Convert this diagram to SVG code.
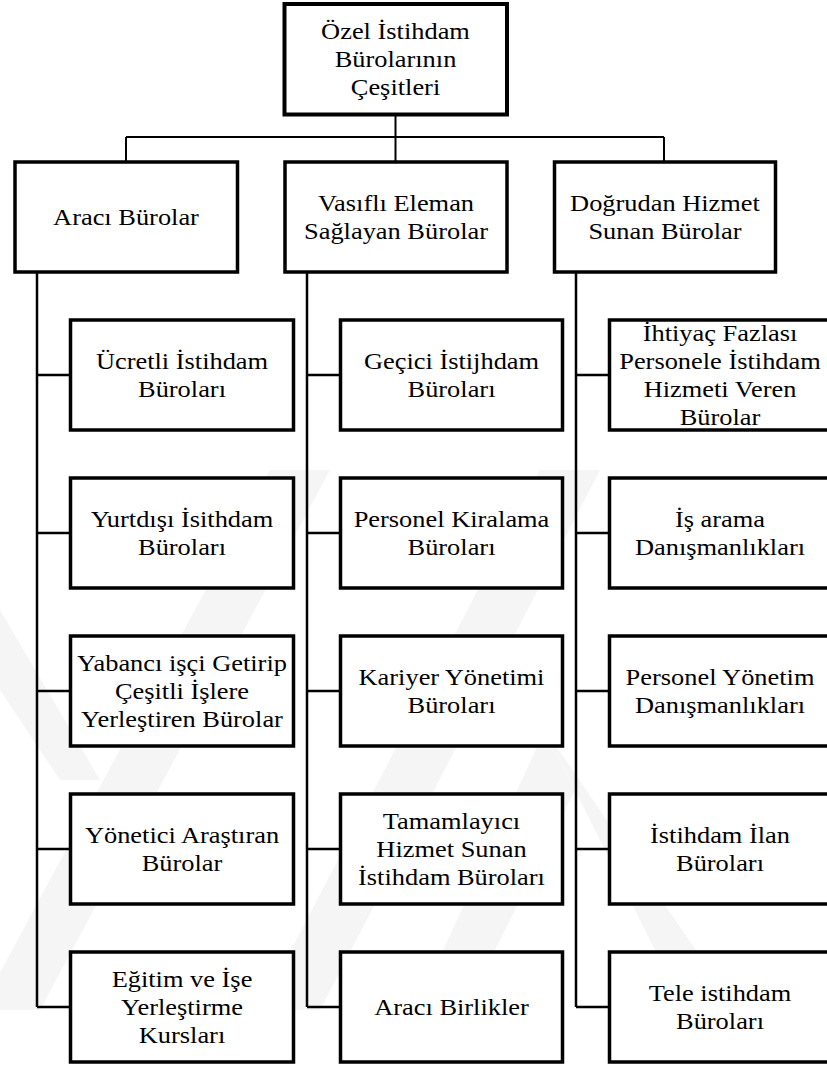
<svg xmlns="http://www.w3.org/2000/svg" width="827" height="1068" viewBox="0 0 827 1068">
<style>
.box{fill:#fff;stroke:#000;stroke-width:3.5}
.top{fill:#fff;stroke:#000;stroke-width:4}
.ln{fill:none;stroke:#000;stroke-width:2.5}
.thin{fill:none;stroke:#000;stroke-width:2}
.wm{fill:#f5f5f5}
.t{font-family:'Liberation Serif','Times New Roman',serif;font-size:24px;fill:#000;text-anchor:middle}
</style>
<g id="watermark">
<polygon class="wm" points="270,470 330,470 40,1010 -20,1010"/>
<polygon class="wm" points="540,470 600,470 320,1010 260,1010"/>
<polygon class="wm" points="0,610 0,690 60,780 100,780"/>
<polygon class="wm" points="545,730 575,790 470,1000 420,1000"/>
<polygon class="wm" points="545,730 575,790 680,1000 730,1000"/>
</g>
<g id="connectors">
<path class="thin" d="M395.5,116 V162 M126,137 H664 M126,137 V162 M664,137 V162"/>
<path class="ln" d="M37,272 V1007 M37,375 H70 M37,533 H70 M37,691 H70 M37,849 H70 M37,1007 H70"/>
<path class="ln" d="M307,272 V1007 M307,375 H340 M307,533 H340 M307,691 H340 M307,849 H340 M307,1007 H340"/>
<path class="ln" d="M576,272 V1007 M576,375 H609 M576,533 H609 M576,691 H609 M576,849 H609 M576,1007 H609"/>
</g>
<g id="root">
<rect class="top" x="284.5" y="4" width="222.5" height="110.5"/>
<g transform="translate(395.5 0) scale(1.1 1)"><text class="t" x="0" y="39">Özel İstihdam</text><text class="t" x="0" y="67">Bürolarının</text><text class="t" x="0" y="95">Çeşitleri</text></g>
</g>
<g id="h1">
<rect class="box" x="15" y="162" width="222.5" height="110"/>
<g transform="translate(126 0) scale(1.1 1)"><text class="t" x="0" y="225">Aracı Bürolar</text></g>
</g>
<g id="h2">
<rect class="box" x="285" y="162" width="222" height="110"/>
<g transform="translate(396 0) scale(1.1 1)"><text class="t" x="0" y="211">Vasıflı Eleman</text><text class="t" x="0" y="239">Sağlayan Bürolar</text></g>
</g>
<g id="h3">
<rect class="box" x="554.5" y="162" width="221" height="110"/>
<g transform="translate(665 0) scale(1.1 1)"><text class="t" x="0" y="211">Doğrudan Hizmet</text><text class="t" x="0" y="239">Sunan Bürolar</text></g>
</g>
<g id="c1n1"><rect class="box" x="70.5" y="320" width="223" height="110"/>
<g transform="translate(182 0) scale(1.1 1)"><text class="t" x="0" y="369">Ücretli İstihdam</text><text class="t" x="0" y="397">Büroları</text></g></g>
<g id="c1n2"><rect class="box" x="70.5" y="478" width="223" height="110"/>
<g transform="translate(182 0) scale(1.1 1)"><text class="t" x="0" y="527">Yurtdışı İsithdam</text><text class="t" x="0" y="555">Büroları</text></g></g>
<g id="c1n3"><rect class="box" x="70.5" y="636" width="223" height="110"/>
<g transform="translate(182 0) scale(1.1 1)"><text class="t" x="0" y="671">Yabancı işçi Getirip</text><text class="t" x="0" y="699">Çeşitli İşlere</text><text class="t" x="0" y="727">Yerleştiren Bürolar</text></g></g>
<g id="c1n4"><rect class="box" x="70.5" y="794" width="223" height="110"/>
<g transform="translate(182 0) scale(1.1 1)"><text class="t" x="0" y="843">Yönetici Araştıran</text><text class="t" x="0" y="871">Bürolar</text></g></g>
<g id="c1n5"><rect class="box" x="70.5" y="952" width="223" height="110"/>
<g transform="translate(182 0) scale(1.1 1)"><text class="t" x="0" y="987">Eğitim ve İşe</text><text class="t" x="0" y="1015">Yerleştirme</text><text class="t" x="0" y="1043">Kursları</text></g></g>
<g id="c2n1"><rect class="box" x="340.5" y="320" width="222" height="110"/>
<g transform="translate(451.5 0) scale(1.1 1)"><text class="t" x="0" y="369">Geçici İstijhdam</text><text class="t" x="0" y="397">Büroları</text></g></g>
<g id="c2n2"><rect class="box" x="340.5" y="478" width="222" height="110"/>
<g transform="translate(451.5 0) scale(1.1 1)"><text class="t" x="0" y="527">Personel Kiralama</text><text class="t" x="0" y="555">Büroları</text></g></g>
<g id="c2n3"><rect class="box" x="340.5" y="636" width="222" height="110"/>
<g transform="translate(451.5 0) scale(1.1 1)"><text class="t" x="0" y="685">Kariyer Yönetimi</text><text class="t" x="0" y="713">Büroları</text></g></g>
<g id="c2n4"><rect class="box" x="340.5" y="794" width="222" height="110"/>
<g transform="translate(451.5 0) scale(1.1 1)"><text class="t" x="0" y="829">Tamamlayıcı</text><text class="t" x="0" y="857">Hizmet Sunan</text><text class="t" x="0" y="885">İstihdam Büroları</text></g></g>
<g id="c2n5"><rect class="box" x="340.5" y="952" width="222" height="110"/>
<g transform="translate(451.5 0) scale(1.1 1)"><text class="t" x="0" y="1015">Aracı Birlikler</text></g></g>
<g id="c3n1"><rect class="box" x="609.5" y="320" width="222" height="110"/>
<g transform="translate(720 0) scale(1.1 1)"><text class="t" x="0" y="341">İhtiyaç Fazlası</text><text class="t" x="0" y="369">Personele İstihdam</text><text class="t" x="0" y="397">Hizmeti Veren</text><text class="t" x="0" y="425">Bürolar</text></g></g>
<g id="c3n2"><rect class="box" x="609.5" y="478" width="222" height="110"/>
<g transform="translate(720 0) scale(1.1 1)"><text class="t" x="0" y="527">İş arama</text><text class="t" x="0" y="555">Danışmanlıkları</text></g></g>
<g id="c3n3"><rect class="box" x="609.5" y="636" width="222" height="110"/>
<g transform="translate(720 0) scale(1.1 1)"><text class="t" x="0" y="685">Personel Yönetim</text><text class="t" x="0" y="713">Danışmanlıkları</text></g></g>
<g id="c3n4"><rect class="box" x="609.5" y="794" width="222" height="110"/>
<g transform="translate(720 0) scale(1.1 1)"><text class="t" x="0" y="843">İstihdam İlan</text><text class="t" x="0" y="871">Büroları</text></g></g>
<g id="c3n5"><rect class="box" x="609.5" y="952" width="222" height="110"/>
<g transform="translate(720 0) scale(1.1 1)"><text class="t" x="0" y="1001">Tele istihdam</text><text class="t" x="0" y="1029">Büroları</text></g></g>
</svg>
